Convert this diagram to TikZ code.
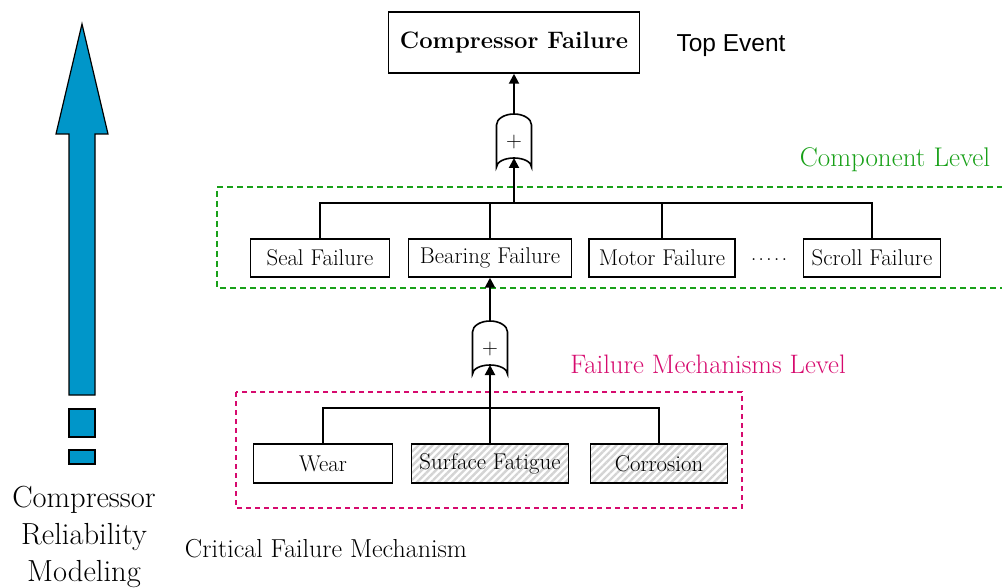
\documentclass[tikz,border=0pt]{standalone}
\usepackage{fontspec}
\newfontfamily\sansfont{Liberation Sans}
\usetikzlibrary{arrows.meta,patterns.meta}

\definecolor{arrowblue}{RGB}{0,150,201}
\definecolor{levelgreen}{RGB}{24,160,24}
\definecolor{levelmagenta}{RGB}{214,10,110}
\definecolor{hatchgray}{RGB}{212,212,212}

\tikzset{
  eventbox/.style={draw=black, line width=1.5pt, fill=white, minimum height=38, inner sep=0pt,
    font=\fontsize{22.8}{26}\selectfont},
  hatched/.style={pattern={Lines[angle=45,distance=5pt,line width=2.4pt]}, pattern color=hatchgray},
  conn/.style={draw=black, line width=2pt},
  tip/.style={-{Triangle[length=10pt,width=10pt]}},
  gateline/.style={draw=black, line width=1.6pt, fill=white},
  greendash/.style={draw=levelgreen, line width=1.4pt, dash pattern=on 6pt off 4pt},
  magdash/.style={draw=levelmagenta, line width=1.4pt, dash pattern=on 5pt off 4pt},
  orgate/.pic={
    \draw[gateline] (-17.5,26.5) -- (-17.5,-15.5)
      arc[start angle=180,end angle=0,x radius=17.5pt,y radius=11pt]
      -- (17.5,26.5)
      arc[start angle=0,end angle=180,x radius=17.5pt,y radius=9pt] -- cycle;
    \node[inner sep=0pt, font=\fontsize{22}{24}\selectfont] (-plus) at (0,1.5) {+};
    \coordinate (-out) at (0,-26.5);
    \coordinate (-in) at (0,17.5);
  }
}

\begin{document}
\begin{tikzpicture}[x=1pt,y=-1pt]
\useasboundingbox (0,0) rectangle (1002,588);

% rising block arrow with its dashed tail
\draw[fill=arrowblue, line width=1.2pt, line join=miter]
  (82,24) -- (108,134) -- (95,134) -- (95,395) -- (69,395) -- (69,134) -- (56,134) -- cycle;
\draw[fill=arrowblue, line width=1.2pt] (69,409) rectangle (95,437);
\draw[fill=arrowblue, line width=1.2pt] (69,450) rectangle (95,464);
\node[align=center, font=\fontsize{30.5}{37}\selectfont] (model) at (84,537)
  {Compressor\\Reliability\\Modeling};

% level frames
\draw[greendash] (1003,187) -- (217,187) -- (217,288) -- (1003,288);
\draw[magdash] (236,392) rectangle (742,508);

% top event
\node[eventbox, minimum width=251, minimum height=61, font=\fontsize{23.8}{27}\selectfont\bfseries]
  (top) at (514,42.5) {Compressor Failure};
\node[font=\sansfont\fontsize{24.5}{28}\selectfont] (toplabel) at (731,46) {Top Event};

% component level
\node[font=\fontsize{27}{30}\selectfont, text=levelgreen] (complabel) at (895,160) {Component Level};
\node[eventbox, minimum width=139] (seal) at (320,258) {Seal Failure};
\node[eventbox, minimum width=163] (bearing) at (490,258) {Bearing Failure};
\node[eventbox, minimum width=146] (motor) at (662,258) {Motor Failure};
\node[eventbox, minimum width=137] (scroll) at (872,258) {Scroll Failure};
\node[font=\fontsize{22.8}{26}\selectfont] (dots) at (769,260)
  {.\kern2pt.\kern2pt.\kern2pt.\kern2pt.};

% failure mechanism level
\node[font=\fontsize{26.7}{30}\selectfont, text=levelmagenta] (mechlabel) at (708,364) {Failure Mechanisms Level};
\node[eventbox, minimum width=139, minimum height=39] (wear) at (323,463.5) {Wear};
\node[eventbox, minimum width=157, minimum height=39, hatched] (fatigue) at (490,463.5) {Surface Fatigue};
\node[eventbox, minimum width=137, minimum height=39, hatched] (corrosion) at (659,463.5) {Corrosion};
\node[font=\fontsize{26}{30}\selectfont] (critical) at (326,549) {Critical Failure Mechanism};

% OR gates
\pic (g1) at (514,140.5) {orgate};
\pic (g2) at (490,347.5) {orgate};

% component bus into the upper gate
\coordinate (b1) at (514,203);
\draw[conn] (seal.north) |- (b1) -| (scroll.north);
\draw[conn] (bearing.north) -- (bearing.north |- b1);
\draw[conn] (motor.north) -- (motor.north |- b1);
\draw[conn, tip] (b1) -- (g1-in);
\draw[conn, tip] (g1-out) -- (top.south);

% mechanism bus into the lower gate
\coordinate (b2) at (490,408);
\draw[conn] (wear.north) |- (b2) -| (corrosion.north);
\draw[conn] (fatigue.north) -- (b2);
\draw[conn, tip] (b2) -- (g2-in);
\draw[conn, tip] (g2-out) -- (bearing.south);
\end{tikzpicture}
\end{document}
